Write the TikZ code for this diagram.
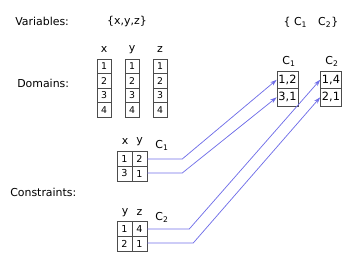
\documentclass[tikz,border=0pt]{standalone}
\usepackage{fontspec}
\setmainfont{DejaVu Sans}
\usetikzlibrary{arrows.meta, positioning}
\definecolor{linkblue}{RGB}{112,110,232}

\begin{document}
\begin{tikzpicture}[
    x=0.75pt, y=-0.75pt,
    >={Stealth[length=5pt,width=3.2pt]},
    font=\fontsize{8.2}{10}\selectfont,
    lbl/.style={inner sep=0pt},
    dcell/.style={draw=black!70, minimum width=10.5pt, minimum height=10.9pt,
      inner sep=0pt, font=\fontsize{7}{8}\selectfont},
    ccell/.style={draw=black!70, minimum width=11.25pt, minimum height=10.9pt,
      inner sep=0pt, font=\fontsize{7.2}{8}\selectfont},
    rcell/.style={draw=black!70, minimum width=15.75pt, minimum height=13.1pt,
      inner sep=0pt, font=\fontsize{8.5}{10}\selectfont},
    link/.style={->, draw=linkblue, line width=0.55pt}
]
    \useasboundingbox (0,0) rectangle (360,261);

    % Row labels
    \node[lbl, anchor=west] (Vars) at (15,21) {Variables:};
    \node[lbl, anchor=west] (Doms) at (17,83) {Domains:};
    \node[lbl, anchor=west] (Cons) at (10,192) {Constraints:};
    \node[lbl] (VarSet) at (127,21) {\{x,y,z\}};
    \node[lbl] (ConSet) at (311,22) {\{ C\textsubscript{1}\quad C\textsubscript{2}\}};

    % Domains
    \foreach \v/\cx in {x/104, y/132, z/160} {
      \node[lbl] (h\v) at (\cx,50) {\v};
      \foreach \i in {1,...,4}
        \node[dcell] (d\v\i) at (\cx,{59+14.5*(\i-0.5)}) {\i};
    }

    % Constraint C1 on x,y
    \node[lbl] (hxA) at (125,142) {x};
    \node[lbl] (hyA) at (139.5,142) {y};
    \node[lbl] (lblA) at (162,145) {C\textsubscript{1}};
    \node[ccell] (A11) at (124.5,159) {1};
    \node[ccell] (A12) at (139.5,159) {2};
    \node[ccell] (A21) at (124.5,173.5) {3};
    \node[ccell] (A22) at (139.5,173.5) {1};

    % Constraint C2 on y,z
    \node[lbl] (hyB) at (125,213) {y};
    \node[lbl] (hzB) at (139.5,213) {z};
    \node[lbl] (lblB) at (162,217) {C\textsubscript{2}};
    \node[ccell] (B11) at (124.5,229) {1};
    \node[ccell] (B12) at (139.5,229) {4};
    \node[ccell] (B21) at (124.5,243.5) {2};
    \node[ccell] (B22) at (139.5,243.5) {1};

    % Constraint set
    \node[lbl] (hRA) at (289,61) {C\textsubscript{1}};
    \node[rcell] (RA1) at (287.5,79.75) {1,2};
    \node[rcell] (RA2) at (287.5,97.25) {3,1};
    \node[lbl] (hRB) at (332,61) {C\textsubscript{2}};
    \node[rcell] (RB1) at (331,79.75) {1,4};
    \node[rcell] (RB2) at (331,97.25) {2,1};

    % Links
    \draw[link] (A12.east) -- ++(35,0) -- (RA1.west);
    \draw[link] ([yshift=0.4pt]A22.east) -- ++(35,0) -- (RA2.west);
    \draw[link] (B12.east) -- ++(42,0) -- (RB1.west);
    \draw[link] ([yshift=0.4pt]B22.east) -- ++(46,0) -- (RB2.west);
\end{tikzpicture}
\end{document}
